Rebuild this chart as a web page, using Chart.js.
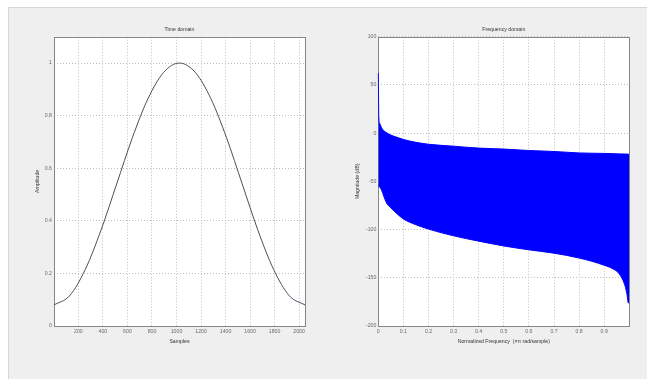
<!DOCTYPE html>
<html>
<head>
<meta charset="utf-8">
<script src="https://cdn.jsdelivr.net/npm/chart.js@4.4.0/dist/chart.umd.min.js"></script>
<style>
  html, body { margin: 0; padding: 0; background: #fff; width: 647px; height: 379px; overflow: hidden; }
  #fig { position: absolute; left: 8px; top: 7px; width: 639px; height: 372px; background: #efefef;
         border-top: 1px solid #d6d6d6; border-left: 1px solid #d6d6d6; box-sizing: border-box; }
  canvas { position: absolute; top: 0; }
</style>
</head>
<body>
<div id="fig"></div>
<canvas id="timeChart" width="320" height="379" style="left:0"></canvas>
<canvas id="freqChart" width="327" height="379" style="left:320px"></canvas>
<script>
// time domain (window shape)
const sampleIdx = [1, 128, 256, 384, 512, 640, 768, 896, 1024, 1152, 1280, 1408, 1536, 1664, 1792, 1920, 2048];
const windowAmp = [0.08, 0.115, 0.215, 0.364, 0.54, 0.716, 0.865, 0.965, 1.0, 0.965, 0.865, 0.716, 0.54, 0.364, 0.215, 0.115, 0.08];
const timeXTicks = [200, 400, 600, 800, 1000, 1200, 1400, 1600, 1800, 2000];
const timeYTicks = [0, 0.2, 0.4, 0.6, 0.8, 1];

// frequency domain: upper and lower envelope of the (filled) magnitude response
const freqAxis = [0, 0.002, 0.006, 0.013, 0.02, 0.033, 0.05, 0.066, 0.1, 0.15, 0.2, 0.3, 0.4, 0.5, 0.6, 0.7, 0.8, 0.9, 0.94, 0.96, 0.98, 0.99, 0.996, 1.0];
const upperDb = [62, 17, 10, 5.5, 3, 0.5, -2, -3.5, -6.5, -9.5, -11.5, -13.5, -15.5, -16.5, -18, -19, -20.5, -21, -21.3, -21.5, -21.6, -21.7, -21.8, -21.8];
const lowerDb = [-55, -55, -56, -59, -64, -72.5, -77.5, -81.5, -89, -95, -99.5, -106.5, -112, -117, -121, -124.5, -129.5, -137, -141.5, -146, -156, -166, -176, -176];
const freqXTicks = [0, 0.1, 0.2, 0.3, 0.4, 0.5, 0.6, 0.7, 0.8, 0.9];
const freqYTicks = [-200, -150, -100, -50, 0, 50, 100];

Chart.defaults.font.family = '"Liberation Sans", Arial, sans-serif';
Chart.defaults.font.size = 5.2;
Chart.defaults.color = '#6a6a6a';

// white axes background + matlab style box (data drawn over it)
const axesBox = {
  id: 'axesBox',
  beforeDraw(chart) {
    const { ctx, chartArea: a } = chart;
    ctx.save();
    ctx.fillStyle = '#fff';
    ctx.fillRect(a.left, a.top, a.right - a.left, a.bottom - a.top);
    ctx.restore();
  },
  beforeDatasetsDraw(chart) {
    const { ctx, chartArea: a } = chart;
    ctx.save();
    ctx.strokeStyle = '#858585';
    ctx.lineWidth = 1;
    ctx.strokeRect(Math.round(a.left) + 0.5, Math.round(a.top) + 0.5,
                   Math.round(a.right - a.left), Math.round(a.bottom - a.top));
    ctx.restore();
  }
};

function axis(ticks, min, max, title, fitSize, horizontal) {
  return {
    type: 'linear',
    min: min,
    max: max,
    afterBuildTicks: s => { s.ticks = ticks.map(v => ({ value: v })); },
    afterFit: s => { if (horizontal) s.height = fitSize; else s.width = fitSize; },
    ticks: { padding: 2, autoSkip: false, maxRotation: 0, callback: v => String(v) },
    grid: { color: '#bcbcbc', lineWidth: 1, drawTicks: false },
    border: { display: false, dash: [1, 2] },
    title: {
      display: true, text: title, color: '#333',
      padding: horizontal ? { top: 0, bottom: 34 } : { top: 34, bottom: 0 }
    }
  };
}

function titleOpts(text) {
  return {
    display: true, text: text, fullSize: false, color: '#333',
    font: { size: 5.2, weight: 'normal' },
    padding: { top: 0, bottom: 4.5 }
  };
}

new Chart('timeChart', {
  type: 'line',
  data: {
    datasets: [{
      data: sampleIdx.map((n, i) => ({ x: n, y: windowAmp[i] })),
      borderColor: '#4d4d60',
      borderWidth: 1,
      pointRadius: 0,
      cubicInterpolationMode: 'monotone',
      fill: false
    }]
  },
  options: {
    responsive: false,
    animation: false,
    layout: { padding: { top: 26, right: 15, left: 0, bottom: 0 } },
    plugins: { legend: { display: false }, tooltip: { enabled: false }, title: titleOpts('Time domain') },
    scales: {
      x: axis(timeXTicks, 1, 2048, 'Samples', 53, true),
      y: axis(timeYTicks, 0, 1.1, 'Amplitude', 54, false)
    }
  },
  plugins: [axesBox]
});

new Chart('freqChart', {
  type: 'line',
  data: {
    datasets: [{
      data: freqAxis.map((f, i) => ({ x: f, y: upperDb[i] })),
      borderColor: '#0000ff',
      backgroundColor: '#0000ff',
      borderWidth: 1,
      pointRadius: 0,
      clip: 1,
      cubicInterpolationMode: 'monotone',
      fill: '+1'
    }, {
      data: freqAxis.map((f, i) => ({ x: f, y: lowerDb[i] })),
      borderColor: '#0000ff',
      borderWidth: 1,
      pointRadius: 0,
      clip: 1,
      cubicInterpolationMode: 'monotone',
      fill: false
    }]
  },
  options: {
    responsive: false,
    animation: false,
    layout: { padding: { top: 26, right: 17.7, left: 0, bottom: 0 } },
    plugins: { legend: { display: false }, tooltip: { enabled: false }, title: titleOpts('Frequency domain') },
    scales: {
      x: axis(freqXTicks, 0, 1, 'Normalized Frequency  (\u00d7\u03c0 rad/sample)', 53, true),
      y: axis(freqYTicks, -200, 100, 'Magnitude (dB)', 58.3, false)
    }
  },
  plugins: [axesBox]
});
</script>
</body>
</html>
